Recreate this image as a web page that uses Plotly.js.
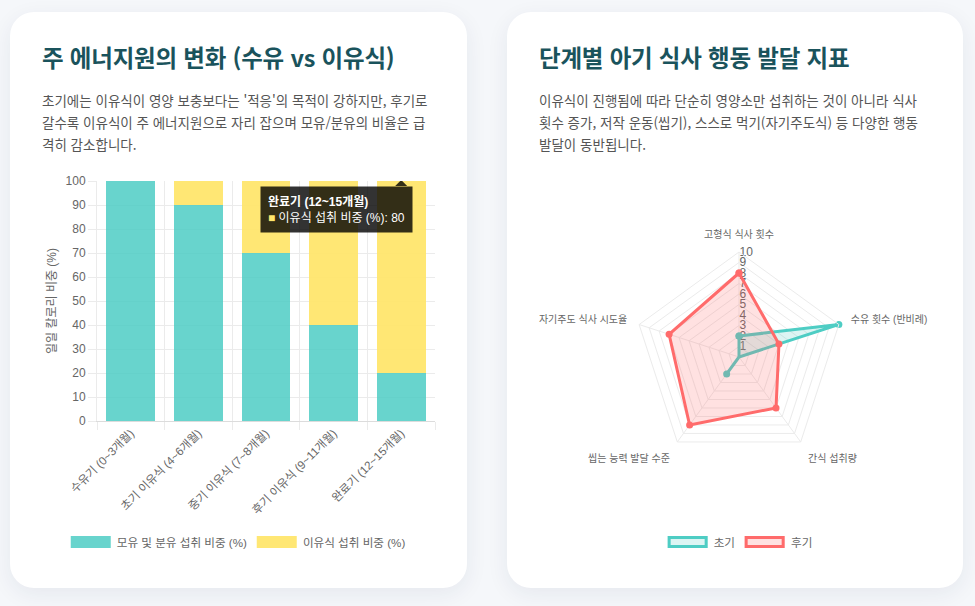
<!DOCTYPE html>
<html lang="ko">
<head>
<meta charset="utf-8">
<script src="https://cdn.plot.ly/plotly-3.0.1.min.js"></script>
<style>
  body { margin: 0; width: 975px; height: 606px; background: #f5f7fa; position: relative; overflow: hidden;
         font-family: "Noto Sans CJK KR", "Noto Sans", sans-serif; }
  .card { position: absolute; top: 12px; width: 457px; height: 576px; background: #fff;
          border-radius: 24px; box-shadow: 0 6px 22px rgba(30, 40, 80, 0.07); }
  .card h2 { position: absolute; left: 32px; top: 28px; margin: 0; font-size: 23.5px; font-weight: 700;
             color: #1a535c; letter-spacing: -0.2px; white-space: nowrap; }
  .card p { position: absolute; left: 32px; top: 77px; margin: 0; font-size: 13.5px; line-height: 22px;
            color: #555; white-space: nowrap; }
  .chart { position: absolute; }
  .legend { position: absolute; top: 534px; display: flex; align-items: center;
            font-family: "Liberation Sans", "Noto Sans CJK KR", sans-serif; font-size: 11.6px; color: #666;
            transform: translateX(-50%); white-space: nowrap; }
  .legend .box { width: 40px; height: 12px; box-sizing: border-box; margin-right: 6px; }
  .legend .label { margin-right: 10px; }
  .legend .label:last-child { margin-right: 0; }
</style>
</head>
<body>
<div class="card" style="left:10px">
  <h2>주 에너지원의 변화 (수유 vs 이유식)</h2>
  <p>초기에는 이유식이 영양 보충보다는 '적응'의 목적이 강하지만, 후기로<br>갈수록 이유식이 주 에너지원으로 자리 잡으며 모유/분유의 비율은 급<br>격히 감소합니다.</p>
</div>
<div class="card" style="left:507px; width:456px">
  <h2>단계별 아기 식사 행동 발달 지표</h2>
  <p>이유식이 진행됨에 따라 단순히 영양소만 섭취하는 것이 아니라 식사<br>횟수 증가, 저작 운동(씹기), 스스로 먹기(자기주도식) 등 다양한 행동<br>발달이 동반됩니다.</p>
</div>
<div id="energy" class="chart" style="left:42px; top:160px; width:400px; height:370px"></div>
<div id="legend1" class="legend" style="left:238px"></div>
<div id="behavior" class="chart" style="left:535px; top:170px; width:410px; height:380px"></div>
<div id="legend2" class="legend" style="left:740px"></div>

<script>
// 단계별 칼로리 비중
const stages = ['수유기 (0~3개월)', '초기 이유식 (4~6개월)', '중기 이유식 (7~8개월)', '후기 이유식 (9~11개월)', '완료기 (12~15개월)'];
const milkShare = [100, 90, 70, 40, 20];
const solidShare = [0, 10, 30, 60, 80];
const energyNames = ['모유 및 분유 섭취 비중 (%)', '이유식 섭취 비중 (%)'];

// 행동 발달 지표 (0~10)
const skills = ['고형식 식사 횟수', '수유 횟수 (반비례)', '간식 섭취량', '씹는 능력 발달 수준', '자기주도 식사 시도율'];
const earlyScore = [2, 10, 0, 2, 0];
const lateScore = [8, 4, 6, 8, 7];
const phaseNames = ['초기', '후기'];

const chartFont = 'Liberation Sans, "Noto Sans CJK KR", sans-serif';
const teal = '#4ECDC4', yellow = '#FFE66D', coral = '#FF6B6B';
const grid = '#ebebeb';

// --- bar chart ---
const bars = [
  { type: 'bar', x: stages, y: milkShare, name: energyNames[0], marker: { color: 'rgba(78,205,196,0.85)' }, hoverinfo: 'skip' },
  { type: 'bar', x: stages, y: solidShare, name: energyNames[1], marker: { color: 'rgba(255,230,109,0.95)' }, hoverinfo: 'skip' },
];

const last = stages.length - 1;
const tipText = '<b>' + stages[last] + '</b><br>' +
  '<span style="color:' + yellow + '">■</span> ' + energyNames[1] + ': ' + solidShare[last];

Plotly.newPlot('energy', bars, {
  barmode: 'stack',
  bargap: 0.28,
  showlegend: false,
  paper_bgcolor: 'rgba(0,0,0,0)',
  plot_bgcolor: 'rgba(0,0,0,0)',
  margin: { l: 55, r: 7, t: 21, b: 109 },
  font: { family: chartFont, size: 12, color: '#666' },
  xaxis: {
    type: 'category', tickangle: -45, tickson: 'boundaries',
    showgrid: true, gridcolor: grid, ticks: 'outside', ticklen: 8, tickcolor: grid,
    showline: true, linecolor: '#dcdcdc', tickfont: { size: 11.6, color: '#666' },
  },
  yaxis: {
    range: [0, 100], dtick: 10, showgrid: true, gridcolor: grid, zeroline: false,
    ticks: 'outside', ticklen: 8, tickcolor: grid, showline: true, linecolor: grid,
    tickfont: { size: 12, color: '#666' },
    title: { text: '일일 칼로리 비중 (%)', font: { size: 12, color: '#666' }, standoff: 6 },
  },
  annotations: [{
    xref: 'x', yref: 'y', x: stages[last], y: 100,
    xanchor: 'right', yanchor: 'top', xshift: 12, yshift: -5,
    text: tipText, showarrow: false, align: 'left',
    bgcolor: 'rgba(0,0,0,0.8)', borderpad: 7,
    font: { family: chartFont, size: 12, color: '#fff' },
  }],
  shapes: [{
    type: 'path', xref: 'x', yref: 'y', xsizemode: 'pixel', ysizemode: 'pixel',
    xanchor: stages[last], yanchor: 100, path: 'M -6 -5 L 0 1 L 6 -5 Z',
    fillcolor: 'rgba(0,0,0,0.8)', line: { width: 0 },
  }],
}, { displayModeBar: false, staticPlot: true });

// --- radar chart ---
const closeLoop = arr => arr.concat(arr.slice(0, 1));
const radar = [
  {
    type: 'scatterpolar', r: closeLoop(earlyScore), theta: closeLoop(skills), name: phaseNames[0],
    mode: 'lines+markers', fill: 'toself', fillcolor: 'rgba(78,205,196,0.2)',
    line: { color: teal, width: 3 }, marker: { color: teal, size: 7 }, hoverinfo: 'skip',
  },
  {
    type: 'scatterpolar', r: closeLoop(lateScore), theta: closeLoop(skills), name: phaseNames[1],
    mode: 'lines+markers', fill: 'toself', fillcolor: 'rgba(255,107,107,0.2)',
    line: { color: coral, width: 3 }, marker: { color: coral, size: 7 }, hoverinfo: 'skip',
  },
];

Plotly.newPlot('behavior', radar, {
  showlegend: false,
  paper_bgcolor: 'rgba(0,0,0,0)',
  margin: { l: 99, r: 101, t: 82, b: 88 },
  font: { family: chartFont, size: 10, color: '#666' },
  polar: {
    bgcolor: 'rgba(0,0,0,0)',
    gridshape: 'linear',
    angularaxis: {
      type: 'category', categoryarray: skills, rotation: 90, direction: 'clockwise',
      gridcolor: grid, linecolor: grid, showline: true,
      ticks: 'outside', ticklen: 10, tickcolor: 'rgba(0,0,0,0)',
      tickfont: { size: 10, color: '#666' },
    },
    radialaxis: {
      range: [0, 10], dtick: 1, tickvals: [1, 2, 3, 4, 5, 6, 7, 8, 9, 10],
      angle: 90, tickangle: 90, showline: false, gridcolor: grid, ticks: '', layer: 'below traces',
      tickfont: { size: 12, color: '#666' },
    },
  },
}, { displayModeBar: false, staticPlot: true });

// --- legends ---
function buildLegend(id, items) {
  const el = document.getElementById(id);
  items.forEach(it => {
    const box = document.createElement('span');
    box.className = 'box';
    box.style.background = it.fill;
    if (it.border) box.style.border = '3px solid ' + it.border;
    const label = document.createElement('span');
    label.className = 'label';
    label.textContent = it.name;
    el.appendChild(box);
    el.appendChild(label);
  });
}
buildLegend('legend1', [
  { name: energyNames[0], fill: 'rgba(78,205,196,0.85)' },
  { name: energyNames[1], fill: 'rgba(255,230,109,0.95)' },
]);
buildLegend('legend2', [
  { name: phaseNames[0], fill: 'rgba(78,205,196,0.2)', border: teal },
  { name: phaseNames[1], fill: 'rgba(255,107,107,0.2)', border: coral },
]);
</script>
</body>
</html>
